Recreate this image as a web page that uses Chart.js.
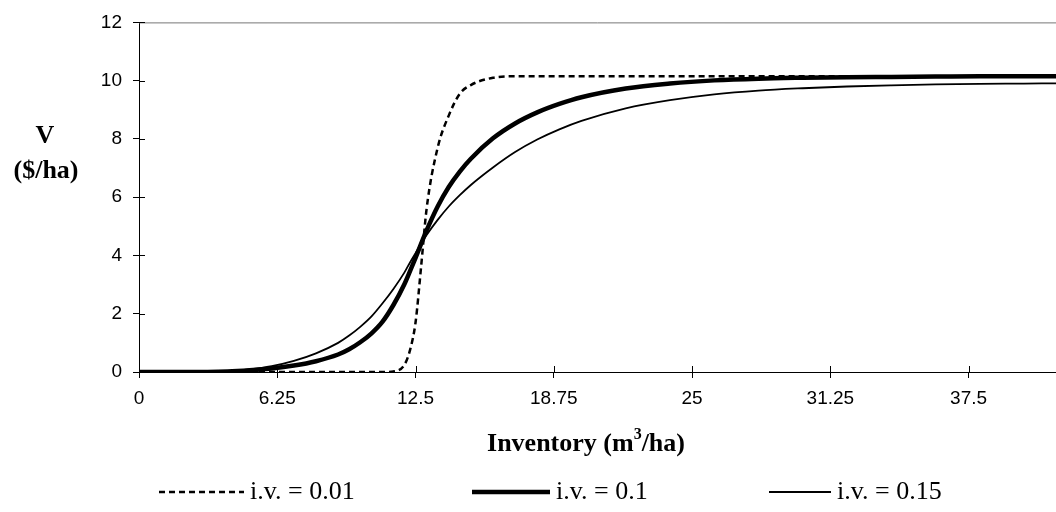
<!DOCTYPE html>
<html>
<head>
<meta charset="utf-8">
<script src="https://cdn.jsdelivr.net/npm/chart.js@4.4.1/dist/chart.umd.min.js"></script>
<style>
  html, body { margin: 0; padding: 0; background: #fff; }
  #wrap { width: 1056px; height: 512px; position: relative; }
</style>
</head>
<body>
<div id="wrap"><canvas id="chart" width="1056" height="512"></canvas></div>
<script>
const inventory = [0, 2, 4, 5, 6, 7, 8, 9, 9.5, 10,
    10.5, 11, 11.5, 12, 12.25, 12.5, 12.75, 13, 13.5, 14,
    14.5, 15, 16, 17, 18, 19, 20, 22, 24, 26,
    28, 30, 32, 34, 36, 38, 40, 41.45];

// V ($/ha) for each initial value
const ivLow = [0, 0, 0, 0, 0, 0, 0, 0, 0, 0,
    0, 0, 0.02, 0.25, 0.75, 1.7, 3.6, 5.6, 7.7, 8.8,
    9.55, 9.85, 10.1, 10.15, 10.15, 10.15, 10.15, 10.15, 10.15, 10.15,
    10.15, 10.15, 10.15, 10.15, 10.15, 10.15, 10.15, 10.15];
const ivMid = [0, 0, 0.02, 0.06, 0.12, 0.22, 0.37, 0.6, 0.78, 1.02,
    1.32, 1.72, 2.3, 3.02, 3.46, 3.92, 4.4, 4.86, 5.68, 6.35,
    6.88, 7.32, 8.02, 8.53, 8.91, 9.2, 9.43, 9.73, 9.9, 10.01,
    10.07, 10.1, 10.12, 10.13, 10.14, 10.15, 10.15, 10.15];
const ivHigh = [0, 0, 0.03, 0.09, 0.2, 0.38, 0.64, 1.0, 1.25, 1.55,
    1.9, 2.35, 2.85, 3.42, 3.76, 4.08, 4.4, 4.7, 5.22, 5.68,
    6.07, 6.42, 7.02, 7.55, 7.98, 8.33, 8.62, 9.05, 9.33, 9.53,
    9.66, 9.74, 9.8, 9.84, 9.87, 9.89, 9.9, 9.91];

const seriesLabels = ['i.v. = 0.01', 'i.v. = 0.1', 'i.v. = 0.15'];
const xTickValues = [0, 6.25, 12.5, 18.75, 25, 31.25, 37.5];
const yTickValues = [0, 2, 4, 6, 8, 10, 12];

const serif = '"Liberation Serif", "Times New Roman", serif';
const sans = '"Liberation Sans", Arial, sans-serif';

function points(values) {
    return inventory.map((x, i) => ({ x: x, y: values[i] }));
}

// Titles, legend, top border and the inner half of the tick marks
const decorations = {
    id: 'decorations',
    beforeDatasetsDraw(chart) {
        const ctx = chart.ctx;
        const area = chart.chartArea;
        const xs = chart.scales.x;
        const ys = chart.scales.y;
        ctx.save();
        ctx.lineWidth = 1;
        ctx.strokeStyle = '#777';
        ctx.beginPath();
        ctx.moveTo(area.left, area.top + 0.5);
        ctx.lineTo(area.right, area.top + 0.5);
        ctx.stroke();

        ctx.strokeStyle = '#000';
        ctx.beginPath();
        yTickValues.forEach(v => {
            const y = Math.round(ys.getPixelForValue(v)) + 0.5;
            ctx.moveTo(area.left, y);
            ctx.lineTo(area.left + 6, y);
        });
        xTickValues.forEach(v => {
            const x = Math.round(xs.getPixelForValue(v)) + 0.5;
            ctx.moveTo(x, area.bottom);
            ctx.lineTo(x, area.bottom - 6);
        });
        ctx.stroke();
        ctx.restore();
    },
    afterDraw(chart) {
        const ctx = chart.ctx;
        ctx.save();
        ctx.fillStyle = '#000';
        ctx.textBaseline = 'middle';

        // y axis title
        ctx.font = 'bold 26px ' + serif;
        ctx.textAlign = 'center';
        ctx.fillText('V', 45, 136);
        ctx.fillText('($/ha)', 46, 171);

        // x axis title with superscript
        ctx.textAlign = 'left';
        const partA = 'Inventory (m';
        const partB = '/ha)';
        ctx.font = 'bold 26px ' + serif;
        const wA = ctx.measureText(partA).width;
        const wB = ctx.measureText(partB).width;
        ctx.font = 'bold 16px ' + serif;
        const wS = ctx.measureText('3').width;
        let tx = 586 - (wA + wS + wB) / 2;
        ctx.font = 'bold 26px ' + serif;
        ctx.fillText(partA, tx, 444);
        tx += wA;
        ctx.font = 'bold 16px ' + serif;
        ctx.fillText('3', tx, 435);
        tx += wS;
        ctx.font = 'bold 26px ' + serif;
        ctx.fillText(partB, tx, 444);

        // legend
        const slots = [{ x: 159, w: 85 }, { x: 472, w: 78 }, { x: 769, w: 62 }];
        const ly = 492;
        ctx.font = '26px ' + serif;
        chart.data.datasets.forEach((ds, i) => {
            const s = slots[i];
            ctx.save();
            ctx.strokeStyle = ds.borderColor;
            ctx.lineWidth = ds.borderWidth;
            ctx.setLineDash(ds.borderDash || []);
            ctx.beginPath();
            ctx.moveTo(s.x, ly);
            ctx.lineTo(s.x + s.w, ly);
            ctx.stroke();
            ctx.restore();
            ctx.fillText(ds.label, s.x + s.w + 6, ly);
        });
        ctx.restore();
    }
};

new Chart(document.getElementById('chart'), {
    type: 'line',
    data: {
        datasets: [
            {
                label: seriesLabels[0],
                data: points(ivLow),
                borderColor: '#000',
                borderWidth: 2.5,
                borderDash: [6, 4],
                order: 3
            },
            {
                label: seriesLabels[1],
                data: points(ivMid),
                borderColor: '#000',
                borderWidth: 4.5,
                order: 2
            },
            {
                label: seriesLabels[2],
                data: points(ivHigh),
                borderColor: '#000',
                borderWidth: 1.8,
                order: 1
            }
        ]
    },
    options: {
        responsive: false,
        animation: false,
        layout: { padding: { top: 15, left: 0, right: 0, bottom: 0 } },
        elements: {
            point: { radius: 0 },
            line: { cubicInterpolationMode: 'monotone', fill: false }
        },
        plugins: {
            legend: { display: false },
            tooltip: { enabled: false }
        },
        scales: {
            x: {
                type: 'linear',
                min: 0,
                max: 41.45,
                afterBuildTicks: scale => {
                    scale.ticks = xTickValues.map(v => ({ value: v }));
                },
                afterFit: scale => { scale.height = 140; },
                grid: { drawOnChartArea: false, tickLength: 6, color: '#000' },
                border: { color: '#000', width: 1 },
                ticks: {
                    color: '#000',
                    font: { family: sans, size: 19 },
                    padding: 9,
                    maxRotation: 0,
                    callback: v => String(v)
                }
            },
            y: {
                min: 0,
                max: 12,
                afterBuildTicks: scale => {
                    scale.ticks = yTickValues.map(v => ({ value: v }));
                },
                afterFit: scale => { scale.width = 139; },
                grid: { drawOnChartArea: false, tickLength: 6, color: '#000' },
                border: { color: '#000', width: 1 },
                ticks: {
                    color: '#000',
                    font: { family: sans, size: 19 },
                    padding: 11,
                    callback: v => String(v)
                }
            }
        }
    },
    plugins: [decorations]
});
</script>
</body>
</html>
